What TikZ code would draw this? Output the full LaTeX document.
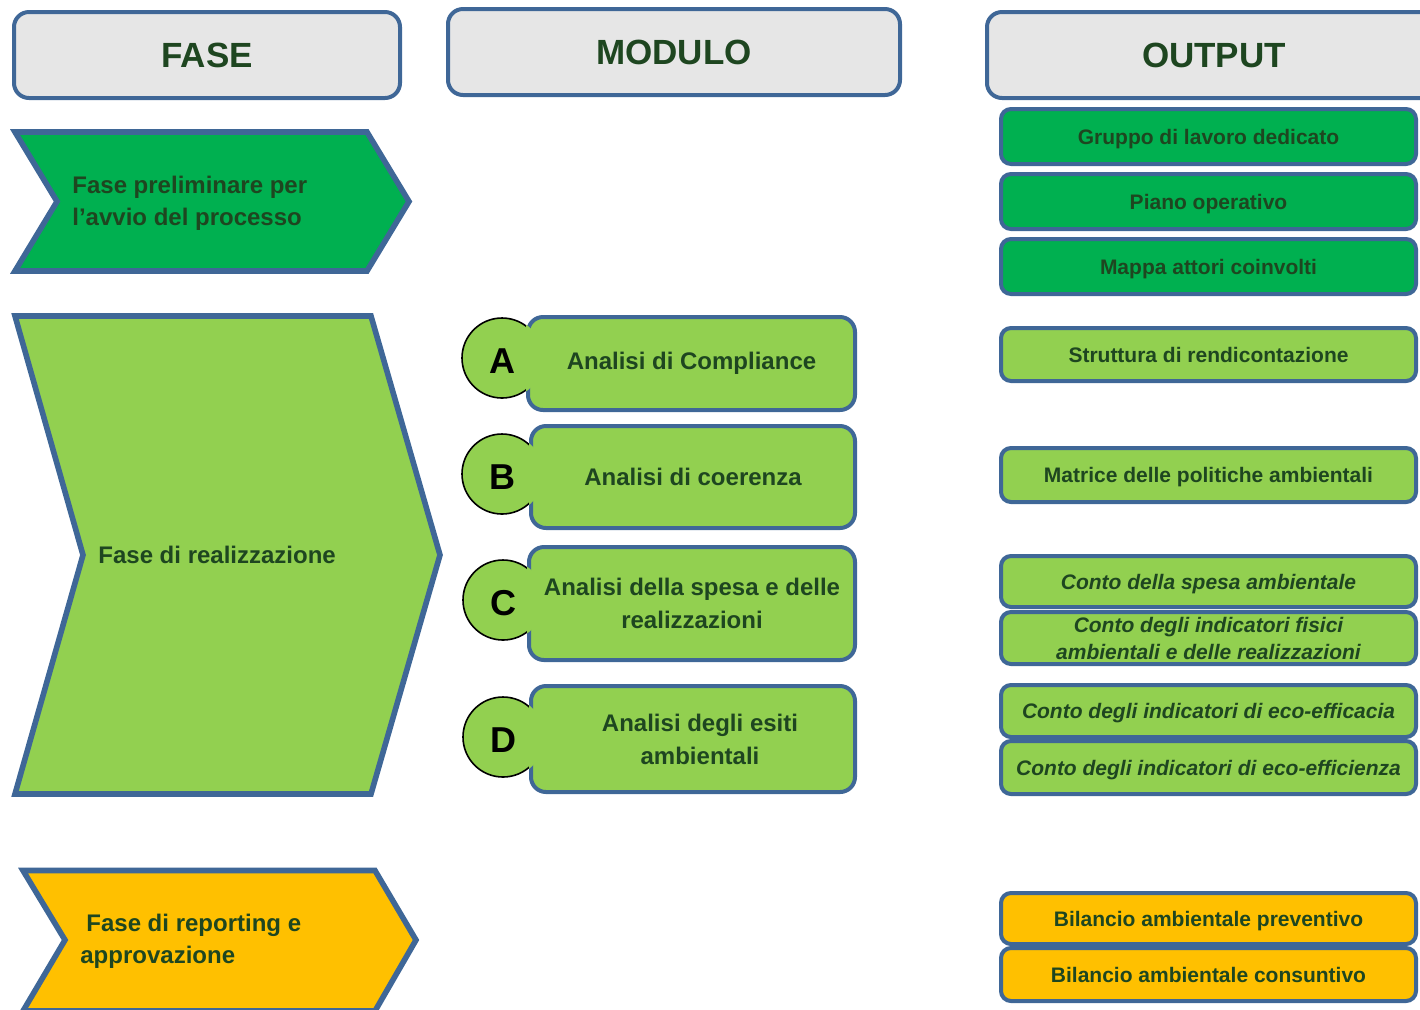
\documentclass[tikz,border=0pt]{standalone}
\usepackage{fontspec}
\setmainfont{Liberation Sans}
\usetikzlibrary{positioning}
\definecolor{FrameBlue}{HTML}{3F6797}
\definecolor{HeadGray}{HTML}{E6E6E6}
\definecolor{DarkGreen}{HTML}{00B050}
\definecolor{LightGreen}{HTML}{92D050}
\definecolor{Amber}{HTML}{FFC000}
\definecolor{InkGreen}{HTML}{1E4620}

\tikzset{
  header/.style={draw=FrameBlue, line width=2pt, fill=HeadGray, rounded corners=7.5pt,
    minimum height=43pt, text=InkGreen, font=\bfseries\fontsize{17.5}{20}\selectfont},
  chevron/.style={draw=FrameBlue, line width=2.8pt},
  phase/.style={anchor=west, align=left, inner sep=0pt, text=InkGreen,
    font=\bfseries\fontsize{12}{16}\selectfont},
  modbox/.style={draw=FrameBlue, line width=2pt, fill=LightGreen, rounded corners=7.5pt,
    align=center, inner sep=0pt, text=InkGreen, font=\bfseries\fontsize{12}{16.5}\selectfont},
  letter/.style={circle, draw=black, line width=0.8pt, fill=LightGreen, minimum size=40pt,
    inner sep=0pt, text height=15.9pt, text depth=0pt, font=\bfseries\fontsize{18}{20}\selectfont},
  outbox/.style={draw=FrameBlue, line width=2pt, rounded corners=5pt, minimum width=207.5pt,
    minimum height=26.5pt, align=center, inner sep=0pt, text=InkGreen,
    text height=7.6pt, text depth=0pt, font=\bfseries\fontsize{10.5}{13.5}\selectfont},
  outit/.style={outbox, font=\bfseries\itshape\fontsize{10.5}{13.5}\selectfont},
}

\begin{document}
\begin{tikzpicture}[x=0.5pt, y=-0.5pt]
    \useasboundingbox (0,0) rectangle (1420,1009);
    \clip (0,0) rectangle (1420,1009);

    % Column headers
    \node[header, minimum width=193pt] (hFase) at (207,55) {FASE};
    \node[header, minimum width=226pt] (hModulo) at (674,52) {MODULO};
    \node[header, minimum width=227pt] (hOutput) at (1214,55) {OUTPUT};

    % Phases (chevrons)
    \draw[chevron, fill=DarkGreen] (15,132) -- (367,132) -- (409,201.5) -- (367,271)
        -- (15,271) -- (57,201.5) -- cycle;
    \node[phase] (pPrelim) at (72,203) {Fase preliminare per\\l’avvio del processo};

    \draw[chevron, fill=LightGreen] (15,316) -- (371,316) -- (440,555) -- (371,794)
        -- (15,794) -- (83,555) -- cycle;
    \node[phase] (pReal) at (98,555) {Fase di realizzazione};

    \draw[chevron, fill=Amber] (23,870.5) -- (375,870.5) -- (416,940) -- (375,1011)
        -- (23,1011) -- (65,940) -- cycle;
    \node[phase] (pReport) at (80,941) {\hspace*{3pt}Fase di reporting e\\approvazione};

    % Modules with letter badges
    \node[letter] (cA) at (502,358) {A};
    \node[modbox, minimum width=163.5pt, minimum height=46.5pt] (mA) at (691.5,363.5)
        {Analisi di Compliance};
    \node[letter] (cB) at (502,474) {B};
    \node[modbox, minimum width=162pt, minimum height=51pt] (mB) at (693,477)
        {Analisi di coerenza};
    \node[letter] (cC) at (503,600) {C};
    \node[modbox, minimum width=163pt, minimum height=56.5pt] (mC) at (692,603.5)
        {Analisi della spesa e delle\\realizzazioni};
    \node[letter] (cD) at (503,737) {D};
    \node[modbox, minimum width=162pt, minimum height=53pt] (mD) at (693,739)
        {\hspace*{7pt}Analisi degli esiti\\\hspace*{7pt}ambientali};

    % merge badge and box
    \foreach \c/\m in {cA/mA, cB/mB, cC/mC, cD/mD} {
        \begin{scope}
            \clip ([yshift=3pt]\c.north -| \m.west) rectangle ([xshift=25pt,yshift=-3pt]\c.south -| \m.west);
            \fill[LightGreen] (\c.center) circle (20.6pt);
        \end{scope}
    }

    % Outputs
    \node[outbox, fill=DarkGreen, minimum height=27.5pt] (oGruppo) at (1208.5,136.5) {Gruppo di lavoro dedicato};
    \node[outbox, fill=DarkGreen, minimum height=27.5pt] (oPiano) at (1208.5,201.5) {Piano operativo};
    \node[outbox, fill=DarkGreen, minimum height=27.5pt] (oMappa) at (1208.5,266.5) {Mappa attori coinvolti};

    \node[outbox, fill=LightGreen] (oStruttura) at (1208.5,354.5) {Struttura di rendicontazione};
    \node[outbox, fill=LightGreen, minimum height=27pt] (oMatrice) at (1208.5,475) {Matrice delle politiche ambientali};

    \node[outit, fill=LightGreen, minimum height=25.5pt] (oSpesa) at (1208.5,581.5) {Conto della spesa ambientale};
    \node[outit, fill=LightGreen, minimum height=26pt, text height=, text depth=] (oFisici) at (1208.5,638) {Conto degli indicatori fisici\\ambientali e delle realizzazioni};
    \node[outit, fill=LightGreen, minimum height=26pt] (oEfficacia) at (1208.5,711) {Conto degli indicatori di eco-efficacia};
    \node[outit, fill=LightGreen] (oEfficienza) at (1208.5,767.5) {Conto degli indicatori di eco-efficienza};

    \node[outbox, fill=Amber, minimum height=25.5pt] (oPreventivo) at (1208.5,918.5) {Bilancio ambientale preventivo};
    \node[outbox, fill=Amber] (oConsuntivo) at (1208.5,974.5) {Bilancio ambientale consuntivo};
\end{tikzpicture}
\end{document}
